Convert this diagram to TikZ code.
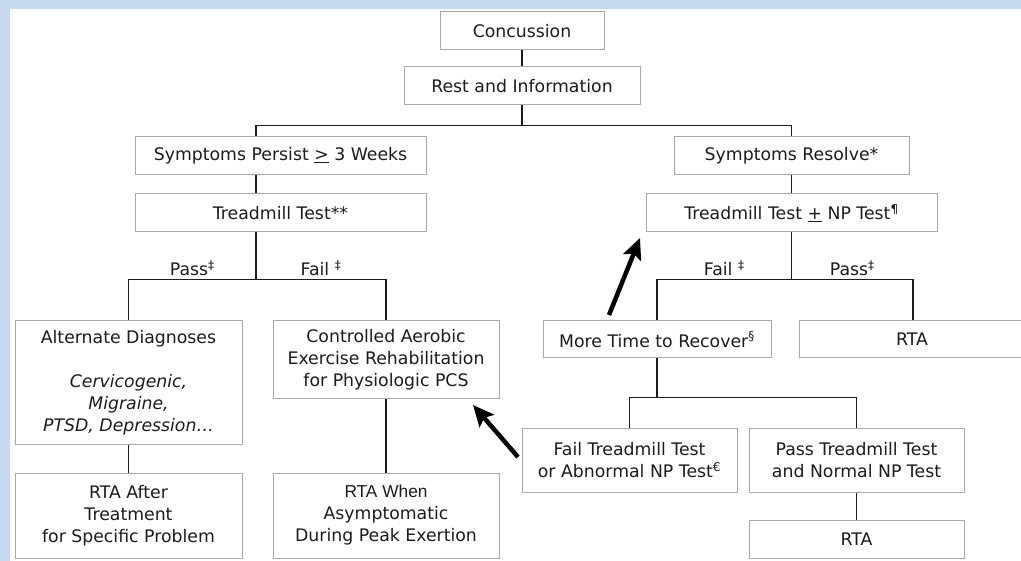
\documentclass[tikz,border=0pt]{standalone}
\usepackage{fontspec}
\setmainfont{DejaVu Sans}
\newfontfamily\arialfont{Liberation Sans}
\usetikzlibrary{arrows.meta}
\definecolor{framebg}{HTML}{C6D9F0}
\definecolor{boxline}{HTML}{A8A8A8}
\definecolor{ink}{HTML}{1C1C1C}
\tikzset{
  box/.style={draw=boxline, line width=1pt, fill=white, align=center, text=ink,
    inner sep=0pt, font=\fontsize{17.3}{22}\selectfont},
  link/.style={draw=ink, line width=1.1pt},
  lbl/.style={text=ink, font=\fontsize{17.3}{22}\selectfont, above, inner sep=3pt},
  hint/.style={-{Stealth[length=21pt,width=19pt,inset=4pt]}, line width=4.5pt, black}
}
\begin{document}
\begin{tikzpicture}[x=1pt,y=-1pt]
  \clip (0,0) rectangle (1021,561);
  \fill[framebg] (0,0) rectangle (1021,561);
  \fill[white] (10,9) rectangle (1021,561);

  % top of the tree
  \node[box, minimum width=164pt, minimum height=38pt] (conc) at (522,31) {Concussion};
  \node[box, minimum width=236pt, minimum height=38pt] (rest) at (522,86) {Rest and Information};
  \node[box, minimum width=291pt, minimum height=38pt] (persist) at (280.5,156) {Symptoms Persist \underline{>} 3 Weeks};
  \node[box, minimum width=291pt, minimum height=38pt] (tread) at (280.5,213) {Treadmill Test**};
  \node[box, minimum width=235pt, minimum height=38pt] (resolve) at (791.5,156) {Symptoms Resolve*};
  \node[box, minimum width=291pt, minimum height=38pt] (tnp) at (791.5,213) {Treadmill Test \underline{+} NP Test\textsuperscript{¶}};

  % left branch
  \node[box, minimum width=227pt, minimum height=124pt] (alt) at (128.5,383)
    {Alternate Diagnoses\\[22pt]\textit{Cervicogenic,}\\\textit{Migraine,}\\\textit{PTSD, Depression\dots}};
  \node[box, minimum width=226pt, minimum height=78pt] (aer) at (386,360)
    {Controlled Aerobic\\Exercise Rehabilitation\\for Physiologic PCS};
  \node[box, minimum width=227pt, minimum height=85pt] (rtaa) at (128.5,515.5)
    {RTA After\\Treatment\\for Specific Problem};
  \node[box, minimum width=226pt, minimum height=85pt] (rtaw) at (386,515.5)
    {{\arialfont RTA When}\\Asymptomatic\\During Peak Exertion};

  % right branch
  \node[box, minimum width=228pt, minimum height=37pt] (more) at (657,339.5) {More Time to Recover\textsuperscript{§}};
  \node[box, minimum width=226pt, minimum height=37pt] (rtaone) at (912,339.5) {RTA};
  \node[box, minimum width=215pt, minimum height=63pt] (failt) at (629.5,460.5)
    {Fail Treadmill Test\\or Abnormal NP Test\textsuperscript{€}};
  \node[box, minimum width=215pt, minimum height=63pt] (passt) at (856.5,460.5)
    {Pass Treadmill Test\\and Normal NP Test};
  \node[box, minimum width=215pt, minimum height=38pt] (rtatwo) at (856.5,539) {RTA};

  % connectors
  \draw[link] (conc) -- (rest);
  \draw[link] (rest.south) -- ++(0,20) coordinate (j1);
  \draw[link] ([xshift=-24.5pt]persist.north) |- (j1) -| (resolve.north);
  \draw[link] ([xshift=-24.5pt]persist.south) -- ([xshift=-24.5pt]tread.north);
  \draw[link] ([xshift=-24.5pt]tread.south) -- ++(0,47) coordinate (j2);
  \draw[link] (alt.north) |- (j2) node[lbl, pos=0.75] {Pass\textsuperscript{‡}}
    -| (aer.north) node[lbl, pos=0.25] {Fail \textsuperscript{‡}};
  \draw[link] (alt) -- (rtaa);
  \draw[link] (aer) -- (rtaw);
  \draw[link] (resolve) -- (tnp);
  \draw[link] (tnp.south) -- ++(0,47) coordinate (j3);
  \draw[link] (more.north) |- (j3) node[lbl, pos=0.75] {Fail \textsuperscript{‡}}
    -| ([xshift=1pt]rtaone.north) node[lbl, pos=0.25] {Pass\textsuperscript{‡}};
  \draw[link] (more.south) -- ++(0,39) coordinate (j4);
  \draw[link] (failt.north) |- (j4) -| (passt.north);
  \draw[link] (passt) -- (rtatwo);

  % the two loop-back arrows
  \coordinate (retry from) at (609,315);
  \coordinate (retry to) at (640,238);
  \coordinate (rehab from) at (518,457);
  \coordinate (rehab to) at (473,405);
  \draw[hint] (retry from) -- (retry to);
  \draw[hint] (rehab from) -- (rehab to);
\end{tikzpicture}
\end{document}
